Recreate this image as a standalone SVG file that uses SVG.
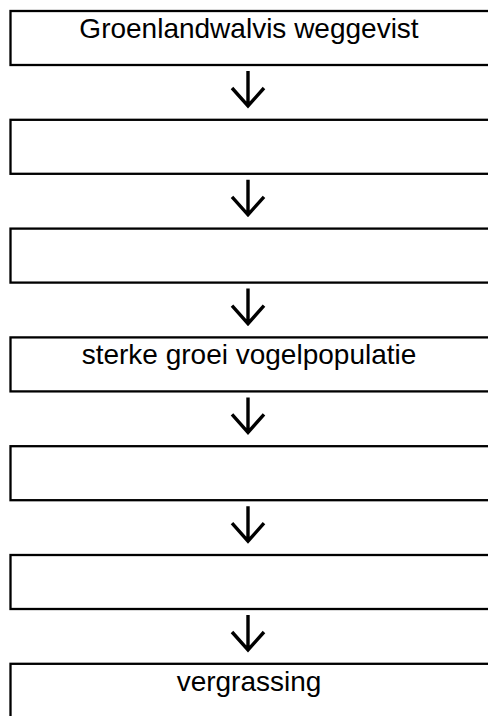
<svg xmlns="http://www.w3.org/2000/svg" width="488" height="716" viewBox="0 0 488 716">
<style>
.box{fill:#fff;stroke:#000;stroke-width:2.3}
.lbl{font-family:"Liberation Sans",Arial,sans-serif;font-size:28px;fill:#000;text-anchor:middle}
.arr{fill:none;stroke:#000;stroke-width:3.4;stroke-linecap:butt;stroke-linejoin:miter}
</style>
<rect width="488" height="716" fill="#fff"/>
<g id="connectors">
<path class="arr" d="M248,71 V106 M232,88 L248,106 L264,88"/>
<path class="arr" d="M248,179.8 V214.8 M232,196.8 L248,214.8 L264,196.8"/>
<path class="arr" d="M248,288.6 V323.6 M232,305.6 L248,323.6 L264,305.6"/>
<path class="arr" d="M248,397.4 V432.4 M232,414.4 L248,432.4 L264,414.4"/>
<path class="arr" d="M248,506.2 V541.2 M232,523.2 L248,541.2 L264,523.2"/>
<path class="arr" d="M248,615 V650 M232,632 L248,650 L264,632"/>
</g>
<g id="n1"><rect class="box" x="10.5" y="11" width="490" height="54"/><text class="lbl" x="249" y="38">Groenlandwalvis weggevist</text></g>
<g id="n2"><rect class="box" x="10.5" y="119.8" width="490" height="54"/></g>
<g id="n3"><rect class="box" x="10.5" y="228.6" width="490" height="54"/></g>
<g id="n4"><rect class="box" x="10.5" y="337.4" width="490" height="54"/><text class="lbl" x="249" y="364.4">sterke groei vogelpopulatie</text></g>
<g id="n5"><rect class="box" x="10.5" y="446.2" width="490" height="54"/></g>
<g id="n6"><rect class="box" x="10.5" y="555" width="490" height="54"/></g>
<g id="n7"><rect class="box" x="10.5" y="663.8" width="490" height="80"/><text class="lbl" x="249" y="690.8">vergrassing</text></g>
</svg>
